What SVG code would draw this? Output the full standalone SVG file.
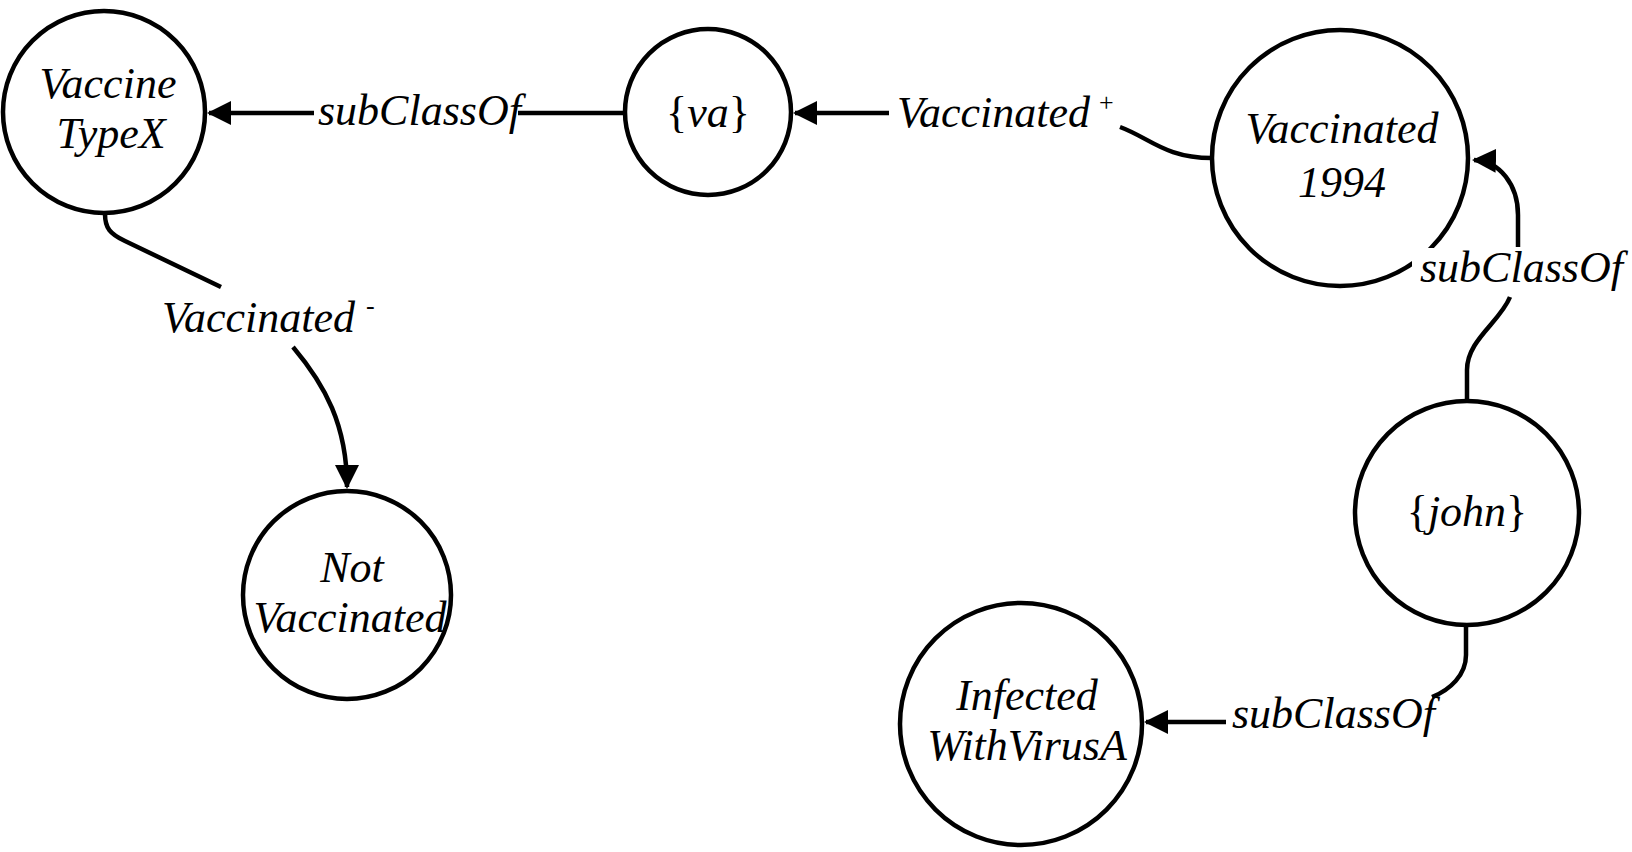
<svg xmlns="http://www.w3.org/2000/svg" width="1632" height="852" viewBox="0 0 1632 852">
  <style>
    .node { fill: #ffffff; stroke: #000000; stroke-width: 4.5; }
    .edge { fill: none; stroke: #000000; stroke-width: 4.5; }
    text { font-family: "Liberation Serif", "Times New Roman", serif; font-style: italic; font-size: 44px; fill: #000000; }
    .c { text-anchor: middle; }
    .up { font-style: normal; }
    .sup { font-size: 26px; font-style: normal; }
    .bg { fill: #ffffff; stroke: none; }
  </style>
  <defs>
    <marker id="arrow" markerUnits="userSpaceOnUse" markerWidth="24" markerHeight="24" viewBox="0 0 24 24" refX="22" refY="12" orient="auto">
      <path d="M0,0 L24,12 L0,24 z" fill="#000000"/>
    </marker>
  </defs>

  <rect width="1632" height="852" fill="#ffffff"/>

  <!-- nodes -->
  <g id="vaccine-typex">
    <circle class="node" cx="104" cy="112" r="101"/>
    <text class="c" x="108" y="98">Vaccine</text>
    <text class="c" x="111" y="148">TypeX</text>
  </g>
  <g id="va">
    <circle class="node" cx="708" cy="112" r="83"/>
    <text class="c" x="708" y="127"><tspan class="up">{</tspan>va<tspan class="up">}</tspan></text>
  </g>
  <g id="vaccinated-1994">
    <circle class="node" cx="1340" cy="158" r="128"/>
    <text class="c" x="1342" y="143">Vaccinated</text>
    <text class="c" x="1342" y="197">1994</text>
  </g>
  <g id="not-vaccinated">
    <circle class="node" cx="347" cy="595" r="104"/>
    <text class="c" x="352" y="582">Not</text>
    <text class="c" x="350" y="632">Vaccinated</text>
  </g>
  <g id="john">
    <circle class="node" cx="1467" cy="513" r="112"/>
    <text class="c" x="1467" y="526"><tspan class="up">{</tspan>john<tspan class="up">}</tspan></text>
  </g>
  <g id="infected-with-virus-a">
    <circle class="node" cx="1021" cy="724" r="121"/>
    <text class="c" x="1027" y="710">Infected</text>
    <text class="c" x="1027" y="760">WithVirusA</text>
  </g>

  <!-- connectors -->
  <g id="connectors">
    <!-- {va} subClassOf VaccineTypeX -->
    <path class="edge" d="M625,113 L518,113"/>
    <path class="edge" d="M314,113 L209,113" marker-end="url(#arrow)"/>
    <text x="318" y="125">subClassOf</text>

    <!-- Vaccinated1994 to {va} via Vaccinated+ -->
    <path class="edge" d="M1212,158 C1165,158 1150,138 1120,127"/>
    <path class="edge" d="M889,113 L795,113" marker-end="url(#arrow)"/>
    <text x="897" y="127">Vaccinated<tspan class="sup" dx="9" dy="-16">+</tspan></text>

    <!-- VaccineTypeX to NotVaccinated via Vaccinated- -->
    <path class="edge" d="M105,214 C105,228 110,234 125,241 L221,287"/>
    <path class="edge" d="M293,347 C325,385 347,425 347,487" marker-end="url(#arrow)"/>
    <text x="162" y="332">Vaccinated<tspan class="sup" dx="11" dy="-18">-</tspan></text>

    <!-- {john} subClassOf Vaccinated1994 -->
    <path class="edge" d="M1467,401 L1467,370 C1467,340 1500,322 1510,297"/>
    <path class="edge" d="M1518,247 L1518,215 C1518,185 1500,161 1474,160" marker-end="url(#arrow)"/>
    <rect class="bg" x="1412" y="248" width="216" height="47"/>
    <text x="1420" y="282">subClassOf</text>

    <!-- {john} subClassOf InfectedWithVirusA -->
    <path class="edge" d="M1466,626 L1466,655 C1466,675 1450,690 1432,697"/>
    <path class="edge" d="M1226,722 L1146,722" marker-end="url(#arrow)"/>
    <text x="1232" y="728">subClassOf</text>
  </g>
</svg>
